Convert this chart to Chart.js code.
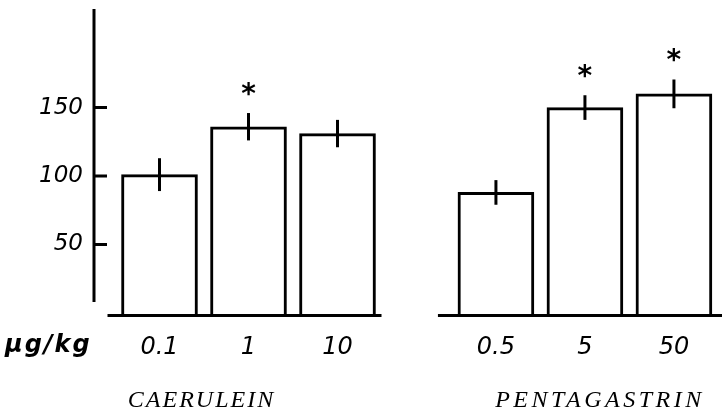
<!DOCTYPE html>
<html>
<head>
<meta charset="utf-8">
<script src="https://cdn.jsdelivr.net/npm/chart.js@4.4.1/dist/chart.umd.min.js"></script>
<style>
  html, body { margin: 0; padding: 0; background: #fff; }
  #contenedor { width: 722px; height: 411px; }
</style>
</head>
<body>
<div id="contenedor"><canvas id="grafico" width="722" height="411"></canvas></div>
<script>
// DATOS
const grupos = ['CAERULEIN', 'PENTAGASTRIN'];
const dosisCaerulein = ['0.1', '1', '10'];
const dosisPentagastrin = ['0.5', '5', '50'];
const mediaCaerulein = [101, 136, 131];
const mediaPentagastrin = [88, 150, 160];
const errorCaerulein = [12, 10, 10];
const errorPentagastrin = [9, 9, 10.5];
const sigCaerulein = [false, true, false];
const sigPentagastrin = [false, true, true];
const ticksY = [50, 100, 150];
const unidad = 'µg/kg';

// separacion entre los dos grupos (en posiciones de barra)
const separacion = 3.78;
const desplTitulo = [-47, 15];

const etiquetas = dosisCaerulein.concat(dosisPentagastrin);
const medias = mediaCaerulein.concat(mediaPentagastrin);
const errores = errorCaerulein.concat(errorPentagastrin);
const significativo = sigCaerulein.concat(sigPentagastrin);
const posiciones = dosisCaerulein.map((d, i) => i)
    .concat(dosisPentagastrin.map((d, i) => separacion + i));
const grupoDe = dosisCaerulein.map(() => 0).concat(dosisPentagastrin.map(() => 1));

// ejes, lineas base, barras de error y asteriscos
const extras = {
    id: 'extras',
    afterDatasetsDraw(chart) {
        const ctx = chart.ctx;
        const y = chart.scales.y;
        const area = chart.chartArea;
        const barras = chart.getDatasetMeta(0).data;
        ctx.save();
        ctx.strokeStyle = '#000';
        ctx.fillStyle = '#000';
        ctx.lineWidth = 3;

        ctx.beginPath();
        ctx.moveTo(area.left, area.top);
        ctx.lineTo(area.left, y.getPixelForValue(8));
        y.ticks.forEach(t => {
            const py = y.getPixelForValue(t.value);
            ctx.moveTo(area.left - 1, py);
            ctx.lineTo(area.left + 13, py);
        });
        ctx.stroke();

        // linea base de cada grupo
        const yBase = area.bottom - 1.5;
        grupos.forEach((g, k) => {
            const idx = grupoDe.map((v, i) => v === k ? i : -1).filter(i => i >= 0);
            const primera = barras[idx[0]], ultima = barras[idx[idx.length - 1]];
            const x0 = primera.x - (k === 0 ? 52 : 58);
            const x1 = Math.min(ultima.x + (k === 0 ? 44 : 60), area.right);
            ctx.beginPath();
            ctx.moveTo(x0, yBase);
            ctx.lineTo(x1, yBase);
            ctx.stroke();
        });

        barras.forEach((b, i) => {
            const arriba = y.getPixelForValue(medias[i] + errores[i]);
            const abajo = y.getPixelForValue(medias[i] - errores[i]);
            ctx.beginPath();
            ctx.moveTo(b.x, arriba);
            ctx.lineTo(b.x, abajo);
            ctx.stroke();
            if (significativo[i]) {
                ctx.font = 'bold 28px "DejaVu Sans"';
                ctx.textAlign = 'center';
                ctx.textBaseline = 'alphabetic';
                ctx.fillText('*', b.x, arriba - 26 + 16);
            }
        });

        // unidad y nombres de los grupos
        ctx.textBaseline = 'alphabetic';
        ctx.textAlign = 'left';
        ctx.font = 'bold italic 24px "DejaVu Sans"';
        ctx.letterSpacing = '2px';
        ctx.fillText(unidad, 5, area.bottom + 35);

        ctx.textAlign = 'center';
        ctx.font = 'italic 24px "Liberation Serif"';
        grupos.forEach((g, k) => {
            const xs = barras.filter((b, i) => grupoDe[i] === k).map(b => b.x);
            const cx = xs.reduce((a, v) => a + v, 0) / xs.length + desplTitulo[k];
            ctx.letterSpacing = k === 0 ? '2px' : '3.5px';
            ctx.fillText(g, cx, area.bottom + 90);
        });
        ctx.restore();
    }
};

const grafico = new Chart(document.getElementById('grafico'), {
    type: 'bar',
    data: {
        datasets: [{
            data: posiciones.map((x, i) => ({ x: x, y: medias[i] })),
            backgroundColor: '#fff',
            borderColor: '#000',
            borderWidth: 3,
            borderSkipped: 'bottom',
            barThickness: 76,
            base: -3
        }]
    },
    options: {
        responsive: false,
        animation: false,
        devicePixelRatio: 1,
        layout: { padding: { top: 9, right: 0, left: 0, bottom: 0 } },
        plugins: { legend: { display: false }, tooltip: { enabled: false } },
        scales: {
            x: {
                type: 'linear',
                offset: false,
                min: -0.736,
                max: 6.32,
                grid: { display: false },
                border: { display: false },
                afterBuildTicks: s => { s.ticks = posiciones.map(v => ({ value: v })); },
                afterFit: s => { s.height = 94; s.paddingLeft = 0; s.paddingRight = 0; },
                ticks: {
                    color: '#000',
                    padding: 8,
                    autoSkip: false,
                    maxRotation: 0,
                    font: { family: 'DejaVu Sans', style: 'italic', size: 24 },
                    callback: (v, i) => etiquetas[i]
                }
            },
            y: {
                min: -3,
                max: 222,
                grid: { display: false },
                border: { display: false },
                afterBuildTicks: s => { s.ticks = ticksY.map(v => ({ value: v })); },
                afterFit: s => { s.width = 94; s.paddingTop = 0; s.paddingBottom = 0; },
                ticks: {
                    color: '#000',
                    padding: 3,
                    font: { family: 'DejaVu Sans', style: 'italic', size: 23 }
                }
            }
        }
    },
    plugins: [extras]
});
</script>
</body>
</html>
